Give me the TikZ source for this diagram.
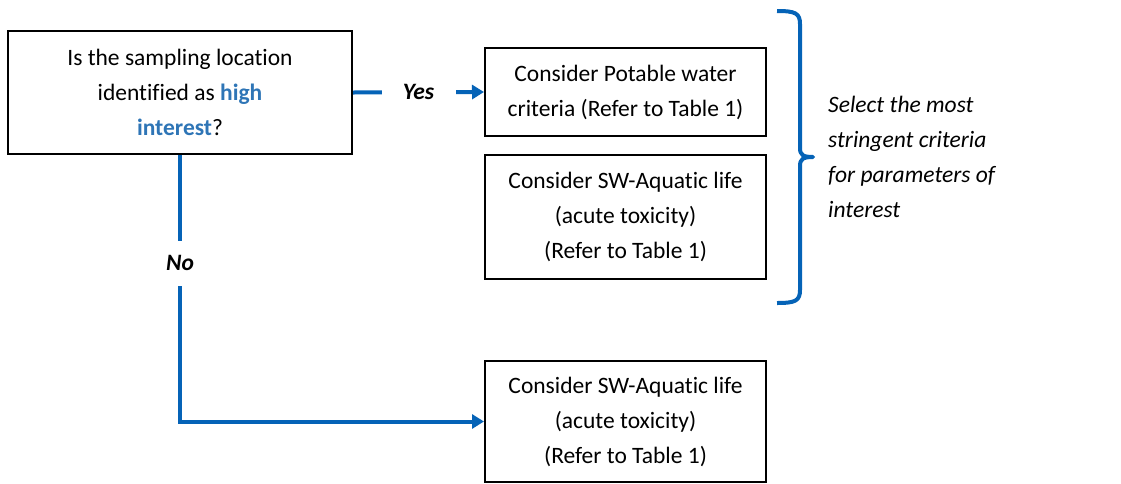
\documentclass[tikz,border=0pt]{standalone}
\usepackage{fontspec}
\setmainfont{Carlito}[Ligatures={NoCommon}]
\usetikzlibrary{arrows.meta}
\definecolor{lineblue}{RGB}{5,99,183}
\definecolor{textblue}{RGB}{46,117,182}
\begin{document}
\begin{tikzpicture}[x=1pt,y=-1pt,
  every node/.style={font=\fontsize{23.5}{35}\selectfont},
  boxnode/.style={draw=black, line width=2pt, inner sep=0pt, align=center},
  conn/.style={draw=lineblue, line width=4pt},
  arr/.style={conn, -{Triangle[length=12pt,width=14pt]}},
  lbl/.style={fill=white, inner sep=0pt, font=\fontsize{23.5}{35}\selectfont\bfseries\itshape}
]
\useasboundingbox (0,0) rectangle (1121,483);

\node[boxnode, minimum width=344pt, minimum height=123pt] (A) at (180,92.5)
  {Is the sampling location\\identified as \textcolor{textblue}{\textbf{high}}\\\textcolor{textblue}{\textbf{interest}}?};
\node[boxnode, minimum width=281pt, minimum height=88pt] (B) at (625.5,92)
  {Consider Potable water\\criteria (Refer to Table 1)};
\node[boxnode, minimum width=281pt, minimum height=124pt] (C) at (625.5,217)
  {Consider SW-Aquatic life\\(acute toxicity)\\(Refer to Table 1)};
\node[boxnode, minimum width=281pt, minimum height=121pt] (D) at (625.5,421.5)
  {Consider SW-Aquatic life\\(acute toxicity)\\(Refer to Table 1)};

\draw[arr] (A.east) -- node[lbl, minimum width=74pt, minimum height=20pt] (yes) {Yes} (B.west);
\draw[arr] (A.south) |- node[lbl, pos=0.203, minimum height=45pt, minimum width=40pt] (no) {No} (D.west);

% brace
\draw[conn, line join=round] (777,11) .. controls (795,11) and (800,13) .. (800,24)
  -- (800,148) .. controls (800,155) and (803,157) .. (813,157)
  .. controls (803,157) and (800,159) .. (800,166)
  -- (800,290) .. controls (800,301) and (795,303) .. (777,303);

\node[anchor=west, align=left, inner sep=0pt, font=\fontsize{23.5}{35}\selectfont\itshape] (sel) at (828,157)
  {Select the most\\stringent criteria\\for parameters of\\interest};
\end{tikzpicture}
\end{document}
